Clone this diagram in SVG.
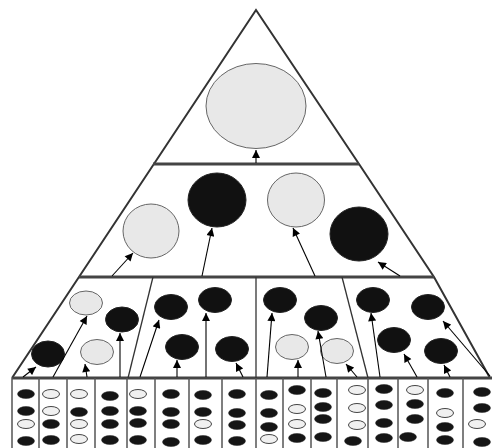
<svg xmlns="http://www.w3.org/2000/svg" width="492" height="448" viewBox="0 0 492 448">
<defs>
<marker id="ah" viewBox="0 0 10 10" refX="10" refY="5" markerWidth="9" markerHeight="8" markerUnits="userSpaceOnUse" orient="auto">
<path d="M0,0 L10,5 L0,10 z" fill="#000"/>
</marker>
<style>
.edge{fill:none;stroke:#333;stroke-width:2}
.hl{fill:none;stroke:#444;stroke-width:3}
.div{fill:none;stroke:#333;stroke-width:1.3}
.sdiv{fill:none;stroke:#555;stroke-width:1.5}
.arr{fill:none;stroke:#000;stroke-width:1.1;marker-end:url(#ah)}
.L{fill:#e8e8e8;stroke:#666;stroke-width:1}
.B{fill:#111;stroke:#222;stroke-width:1}
.sL{fill:#f0f0f0;stroke:#444;stroke-width:1}
.sB{fill:#151515;stroke:#222;stroke-width:0.5}
ellipse.sL,ellipse.sB{rx:8.5px;ry:4.5px}
</style>
</defs>
<rect width="492" height="448" fill="#fff"/>
<g id="frame">
<polyline class="edge" points="12,378 256,10 359,164 434,277 490,378"/>
<line class="hl" x1="153" y1="164" x2="359" y2="164"/>
<line class="hl" x1="79" y1="277" x2="434" y2="277"/>
<line class="hl" x1="12" y1="378" x2="492" y2="378"/>
<line class="div" x1="153" y1="277" x2="128" y2="378"/>
<line class="div" x1="256" y1="277" x2="256" y2="378"/>
<line class="div" x1="342" y1="277" x2="368" y2="378"/>
<line class="sdiv" x1="12" y1="378" x2="12" y2="448"/>
<line class="sdiv" x1="39" y1="378" x2="39" y2="448"/>
<line class="sdiv" x1="67" y1="378" x2="67" y2="448"/>
<line class="sdiv" x1="95" y1="378" x2="95" y2="448"/>
<line class="sdiv" x1="127" y1="378" x2="127" y2="448"/>
<line class="sdiv" x1="155" y1="378" x2="155" y2="448"/>
<line class="sdiv" x1="189" y1="378" x2="189" y2="448"/>
<line class="sdiv" x1="222" y1="378" x2="222" y2="448"/>
<line class="sdiv" x1="256" y1="378" x2="256" y2="448"/>
<line class="sdiv" x1="283" y1="378" x2="283" y2="448"/>
<line class="sdiv" x1="311" y1="378" x2="311" y2="448"/>
<line class="sdiv" x1="337" y1="378" x2="337" y2="448"/>
<line class="sdiv" x1="368" y1="378" x2="368" y2="448"/>
<line class="sdiv" x1="398" y1="378" x2="398" y2="448"/>
<line class="sdiv" x1="428" y1="378" x2="428" y2="448"/>
<line class="sdiv" x1="463" y1="378" x2="463" y2="448"/>
</g>
<g id="top"><ellipse class="L" cx="256" cy="106" rx="50" ry="42.5"/></g>
<g id="m1"><ellipse class="L" cx="151" cy="231" rx="28" ry="27"/></g>
<g id="m2"><ellipse class="B" cx="217" cy="200" rx="29" ry="27"/></g>
<g id="m3"><ellipse class="L" cx="296" cy="200" rx="28.5" ry="27"/></g>
<g id="m4"><ellipse class="B" cx="359" cy="234" rx="29" ry="27"/></g>
<g id="a1"><ellipse class="B" cx="48" cy="354" rx="16.5" ry="13"/></g>
<g id="a2"><ellipse class="L" cx="86" cy="303" rx="16.5" ry="12"/></g>
<g id="a3"><ellipse class="B" cx="122" cy="319.5" rx="16.5" ry="12.5"/></g>
<g id="a4"><ellipse class="L" cx="97" cy="352" rx="16.5" ry="12.5"/></g>
<g id="b1"><ellipse class="B" cx="171" cy="307" rx="16.5" ry="12.5"/></g>
<g id="b2"><ellipse class="B" cx="215" cy="300" rx="16.5" ry="12.5"/></g>
<g id="b3"><ellipse class="B" cx="182" cy="347" rx="16.5" ry="12.5"/></g>
<g id="b4"><ellipse class="B" cx="232" cy="349" rx="16.5" ry="12.5"/></g>
<g id="c1"><ellipse class="B" cx="280" cy="300" rx="16.5" ry="12.5"/></g>
<g id="c2"><ellipse class="B" cx="321" cy="318" rx="16.5" ry="12.5"/></g>
<g id="c3"><ellipse class="L" cx="292" cy="347" rx="16.5" ry="12.5"/></g>
<g id="c4"><ellipse class="L" cx="337" cy="351" rx="16.5" ry="12.5"/></g>
<g id="d1"><ellipse class="B" cx="373" cy="300" rx="16.5" ry="12.5"/></g>
<g id="d2"><ellipse class="B" cx="428" cy="307" rx="16.5" ry="12.5"/></g>
<g id="d3"><ellipse class="B" cx="394" cy="340" rx="16.5" ry="12.5"/></g>
<g id="d4"><ellipse class="B" cx="441" cy="351" rx="16.5" ry="12.5"/></g>
<g id="col1"><ellipse class="sB" cx="26" cy="394" rx="8.5" ry="4.5"/><ellipse class="sB" cx="26" cy="411" rx="8.5" ry="4.5"/><ellipse class="sL" cx="26" cy="424" rx="8.5" ry="4.5"/><ellipse class="sB" cx="26" cy="441" rx="8.5" ry="4.5"/></g>
<g id="col2"><ellipse class="sL" cx="51" cy="394" rx="8.5" ry="4.5"/><ellipse class="sL" cx="51" cy="411" rx="8.5" ry="4.5"/><ellipse class="sB" cx="51" cy="424" rx="8.5" ry="4.5"/><ellipse class="sB" cx="51" cy="440" rx="8.5" ry="4.5"/></g>
<g id="col3"><ellipse class="sL" cx="79" cy="394" rx="8.5" ry="4.5"/><ellipse class="sB" cx="79" cy="412" rx="8.5" ry="4.5"/><ellipse class="sL" cx="79" cy="424" rx="8.5" ry="4.5"/><ellipse class="sL" cx="79" cy="439" rx="8.5" ry="4.5"/></g>
<g id="col4"><ellipse class="sB" cx="110" cy="396" rx="8.5" ry="4.5"/><ellipse class="sB" cx="110" cy="411" rx="8.5" ry="4.5"/><ellipse class="sB" cx="110" cy="424" rx="8.5" ry="4.5"/><ellipse class="sB" cx="110" cy="440" rx="8.5" ry="4.5"/></g>
<g id="col5"><ellipse class="sL" cx="138" cy="394" rx="8.5" ry="4.5"/><ellipse class="sB" cx="138" cy="411" rx="8.5" ry="4.5"/><ellipse class="sB" cx="138" cy="423" rx="8.5" ry="4.5"/><ellipse class="sB" cx="138" cy="440" rx="8.5" ry="4.5"/></g>
<g id="col6"><ellipse class="sB" cx="171" cy="394" rx="8.5" ry="4.5"/><ellipse class="sB" cx="171" cy="412" rx="8.5" ry="4.5"/><ellipse class="sB" cx="171" cy="424" rx="8.5" ry="4.5"/><ellipse class="sB" cx="171" cy="442" rx="8.5" ry="4.5"/></g>
<g id="col7"><ellipse class="sB" cx="203" cy="395" rx="8.5" ry="4.5"/><ellipse class="sB" cx="203" cy="412" rx="8.5" ry="4.5"/><ellipse class="sL" cx="203" cy="424" rx="8.5" ry="4.5"/><ellipse class="sB" cx="203" cy="440" rx="8.5" ry="4.5"/></g>
<g id="col8"><ellipse class="sB" cx="237" cy="394" rx="8.5" ry="4.5"/><ellipse class="sB" cx="237" cy="413" rx="8.5" ry="4.5"/><ellipse class="sB" cx="237" cy="425" rx="8.5" ry="4.5"/><ellipse class="sB" cx="237" cy="441" rx="8.5" ry="4.5"/></g>
<g id="col9"><ellipse class="sB" cx="269" cy="395" rx="8.5" ry="4.5"/><ellipse class="sB" cx="269" cy="413" rx="8.5" ry="4.5"/><ellipse class="sB" cx="269" cy="427" rx="8.5" ry="4.5"/><ellipse class="sL" cx="269" cy="439" rx="8.5" ry="4.5"/></g>
<g id="col10"><ellipse class="sB" cx="297" cy="390" rx="8.5" ry="4.5"/><ellipse class="sL" cx="297" cy="409" rx="8.5" ry="4.5"/><ellipse class="sL" cx="297" cy="424" rx="8.5" ry="4.5"/><ellipse class="sB" cx="297" cy="438" rx="8.5" ry="4.5"/></g>
<g id="col11"><ellipse class="sB" cx="323" cy="393" rx="8.5" ry="4.5"/><ellipse class="sB" cx="323" cy="407" rx="8.5" ry="4.5"/><ellipse class="sB" cx="323" cy="419" rx="8.5" ry="4.5"/><ellipse class="sB" cx="323" cy="437" rx="8.5" ry="4.5"/></g>
<g id="col12"><ellipse class="sL" cx="357" cy="390" rx="8.5" ry="4.5"/><ellipse class="sL" cx="357" cy="408" rx="8.5" ry="4.5"/><ellipse class="sL" cx="357" cy="425" rx="8.5" ry="4.5"/><ellipse class="sB" cx="353" cy="441" rx="8.5" ry="4.5"/></g>
<g id="col13"><ellipse class="sB" cx="384" cy="389" rx="8.5" ry="4.5"/><ellipse class="sB" cx="384" cy="405" rx="8.5" ry="4.5"/><ellipse class="sB" cx="384" cy="423" rx="8.5" ry="4.5"/><ellipse class="sB" cx="384" cy="438" rx="8.5" ry="4.5"/></g>
<g id="col14"><ellipse class="sL" cx="415" cy="390" rx="8.5" ry="4.5"/><ellipse class="sB" cx="415" cy="404" rx="8.5" ry="4.5"/><ellipse class="sB" cx="415" cy="419" rx="8.5" ry="4.5"/><ellipse class="sB" cx="408" cy="437" rx="8.5" ry="4.5"/></g>
<g id="col15"><ellipse class="sB" cx="445" cy="393" rx="8.5" ry="4.5"/><ellipse class="sL" cx="445" cy="413" rx="8.5" ry="4.5"/><ellipse class="sB" cx="445" cy="427" rx="8.5" ry="4.5"/><ellipse class="sB" cx="445" cy="440" rx="8.5" ry="4.5"/></g>
<g id="col16"><ellipse class="sB" cx="482" cy="392" rx="8.5" ry="4.5"/><ellipse class="sB" cx="482" cy="408" rx="8.5" ry="4.5"/><ellipse class="sL" cx="477" cy="424" rx="8.5" ry="4.5"/><ellipse class="sB" cx="482" cy="442" rx="8.5" ry="4.5"/></g>
<g id="connectors">
<line class="arr" x1="256" y1="163" x2="256" y2="150"/>
<line class="arr" x1="112" y1="276" x2="133" y2="253"/>
<line class="arr" x1="202" y1="276" x2="212" y2="228"/>
<line class="arr" x1="315" y1="276" x2="293" y2="228"/>
<line class="arr" x1="400" y1="276" x2="378" y2="262"/>
<line class="arr" x1="23" y1="377" x2="36" y2="367"/>
<line class="arr" x1="53" y1="377" x2="87" y2="316"/>
<line class="arr" x1="87" y1="377" x2="85" y2="364"/>
<line class="arr" x1="120" y1="377" x2="120" y2="333"/>
<line class="arr" x1="140" y1="377" x2="159" y2="320"/>
<line class="arr" x1="177" y1="377" x2="177" y2="360"/>
<line class="arr" x1="206" y1="377" x2="206" y2="313"/>
<line class="arr" x1="243" y1="377" x2="236" y2="363"/>
<line class="arr" x1="267" y1="377" x2="272" y2="313"/>
<line class="arr" x1="298" y1="377" x2="298" y2="360"/>
<line class="arr" x1="326" y1="377" x2="318" y2="331"/>
<line class="arr" x1="357" y1="377" x2="346" y2="364"/>
<line class="arr" x1="380" y1="377" x2="371" y2="313"/>
<line class="arr" x1="417" y1="377" x2="404" y2="354"/>
<line class="arr" x1="450" y1="377" x2="444" y2="365"/>
<line class="arr" x1="490" y1="376" x2="443" y2="321"/>
</g>
</svg>
